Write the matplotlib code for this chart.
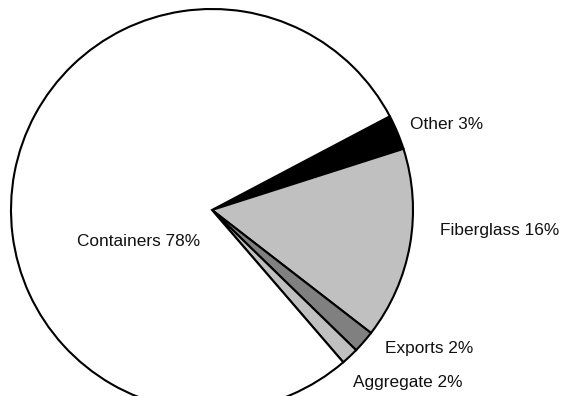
import matplotlib
matplotlib.use("Agg")
import matplotlib.pyplot as plt

# slice data (angles), going clockwise from "Other"
labels = ["Other 3%", "Fiberglass 16%", "Exports 2%", "Aggregate 2%", "Containers 78%"]
shares = [2.8, 15.4, 1.8, 1.4, 78.6]
colors = ["#000000", "#c0c0c0", "#808080", "#c0c0c0", "#ffffff"]

# label anchor points (data units, pie radius = 1)
label_x = [0.985, 1.134, 0.861, 0.701, -0.672]
label_y = [0.423, -0.100, -0.687, -0.856, -0.159]

plt.rcParams['font.family'] = ['Liberation Sans', 'DejaVu Sans']

fig = plt.figure(figsize=(5.61, 3.96), dpi=100)
ax = fig.add_axes([0, 0, 1, 1])

ax.pie(shares, colors=colors, startangle=27.8, counterclock=False,
       radius=1.0, center=(0, 0),
       wedgeprops=dict(edgecolor="black", linewidth=1.5))

for lab, x, y in zip(labels, label_x, label_y):
    ax.text(x, y, lab, ha="left", va="center", fontsize=12.4, color="#111111")

# pixel geometry: center at (212, 210), radius 201 px
r = 201.0
ax.set_xlim(-212 / r, (561 - 212) / r)
ax.set_ylim(-(396 - 210) / r, 210 / r)
ax.set_aspect("auto")
ax.axis("off")

fig.savefig("out.png", dpi=100)
